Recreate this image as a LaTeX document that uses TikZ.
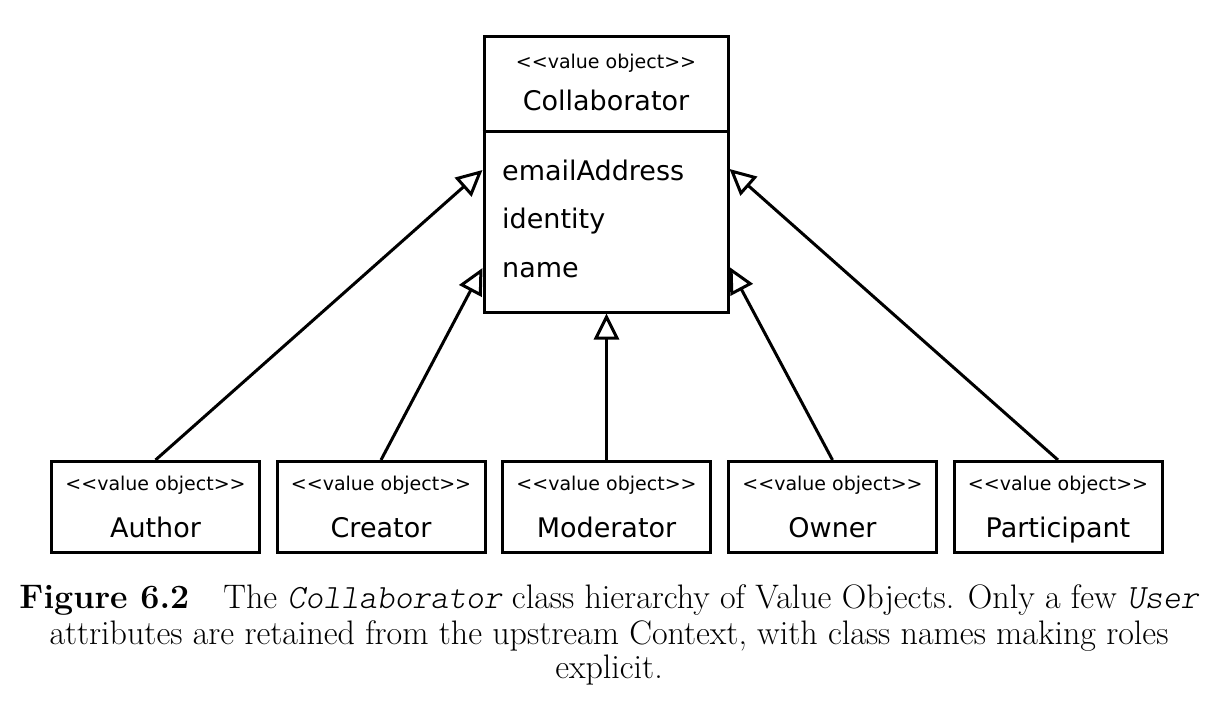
\documentclass[tikz,border=0pt]{standalone}
\usepackage{fontspec}
\usepackage{tikz}
\usetikzlibrary{arrows.meta}
\newfontfamily\umlfont{DejaVu Sans}
\newcommand{\valobj}{<\kern0pt<value object>\kern0pt>}
\newcommand{\codeit}[1]{{\ttfamily\fontseries{l}\fontshape{sl}\selectfont #1}}

\begin{document}
\begin{tikzpicture}[x=1pt, y=-1pt,
  umlbox/.style={draw, line width=3pt, fill=white, inner sep=0pt},
  smallbox/.style={umlbox, minimum width=208pt, minimum height=91pt},
  stereo/.style={font=\umlfont\fontsize{19}{20}\selectfont, inner sep=0pt, anchor=base},
  cname/.style={font=\umlfont\fontsize{27}{30}\selectfont, inner sep=0pt, anchor=base},
  attr/.style={font=\umlfont\fontsize{27}{30}\selectfont, inner sep=0pt, anchor=base west},
  capline/.style={font=\rmfamily\fontsize{34}{36}\selectfont, inner sep=0pt, anchor=base},
  gen/.style={line width=3pt, -{Triangle[open, length=26pt, width=25pt]}}]

\useasboundingbox (0,0) rectangle (1218,710);

% the super class
\node[umlbox, minimum width=244pt, minimum height=276pt] (collab) at (606,174) {};
\draw[line width=3pt] (collab.west |- 0,131) -- (collab.east |- 0,131);
\node[stereo] (collabst) at (606,68) {\valobj};
\node[cname] (collabname) at (606,110) {Collaborator};
\node[attr] (email) at (502,180) {emailAddress};
\node[attr] (identity) at (502,228) {identity};
\node[attr] (name) at (502,277) {name};

% the roles
\node[smallbox] (author) at (155.5,507) {};
\node[stereo] (authorst) at (155.5,490) {\valobj};
\node[cname] (authorname) at (155.5,537) {Author};

\node[smallbox] (creator) at (381,507) {};
\node[stereo] (creatorst) at (381,490) {\valobj};
\node[cname] (creatorname) at (381,537) {Creator};

\node[smallbox] (moderator) at (606.5,507) {};
\node[stereo] (moderatorst) at (606.5,490) {\valobj};
\node[cname] (moderatorname) at (606.5,537) {Moderator};

\node[smallbox] (owner) at (832.5,507) {};
\node[stereo] (ownerst) at (832.5,490) {\valobj};
\node[cname] (ownername) at (832.5,537) {Owner};

\node[smallbox] (participant) at (1058,507) {};
\node[stereo] (participantst) at (1058,490) {\valobj};
\node[cname] (participantname) at (1058,537) {Participant};

% generalisations
\draw[gen] (author.north) -- (collab.west |- 0,170);
\draw[gen] (creator.north) -- (collab.west |- 0,268);
\draw[gen] (moderator.north) -- (moderator.north |- collab.south);
\draw[gen] (owner.north) -- (collab.east |- 0,267);
\draw[gen] (participant.north) -- (collab.east |- 0,169);

% caption
\node[capline] (cap1) at (609,608) {{\bfseries Figure 6.2}\quad The \codeit{Collaborator} class hierarchy of Value Objects. Only a few \codeit{User}};
\node[capline] (cap2) at (609,644) {attributes are retained from the upstream Context, with class names making roles};
\node[capline] (cap3) at (609,678) {explicit.};

\end{tikzpicture}
\end{document}
